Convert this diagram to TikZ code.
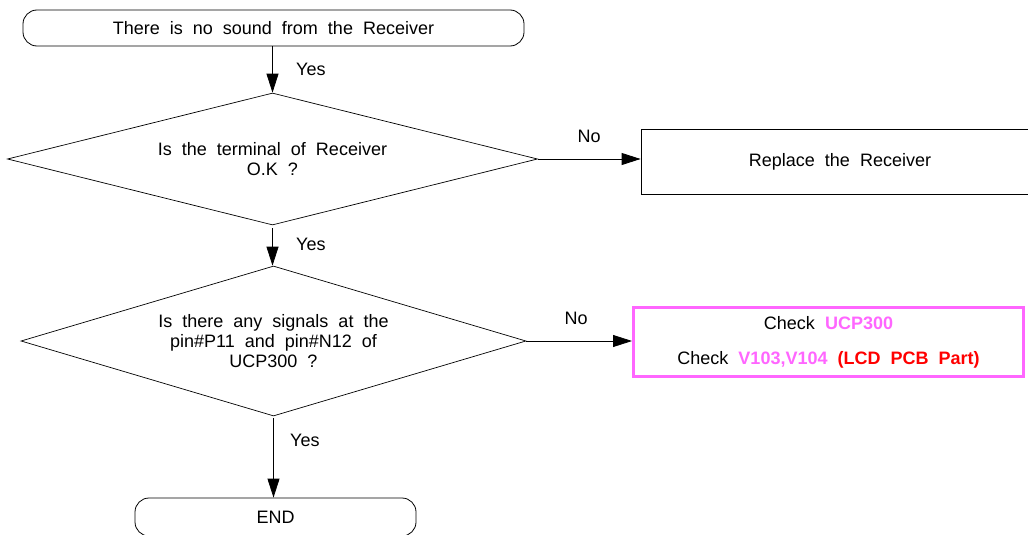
\documentclass[tikz,border=0pt]{standalone}
\usepackage{fontspec}
\setmainfont{Liberation Sans}[WordSpace=2]
\usetikzlibrary{shapes.geometric}
\usetikzlibrary{arrows.meta}
\definecolor{chkpink}{HTML}{FF66FF}
\definecolor{chkred}{HTML}{FF0000}

\begin{document}
\begin{tikzpicture}[x=1pt,y=-1pt,
  every node/.style={font=\fontsize{18}{20}\selectfont},
  term/.style={draw,line width=0.8pt,rounded corners=14pt,inner sep=0pt},
  decide/.style={draw,diamond,aspect=4,inner sep=0pt,line width=0.7pt,align=center},
  flow/.style={line width=0.8pt,-{Triangle[length=19pt,width=12pt]}}]
\useasboundingbox (0,0) rectangle (1028,535);

  \node[term,minimum width=501pt,minimum height=36pt] (start) at (273.5,28) {There is no sound from the Receiver};
  \node[decide,minimum width=530pt,minimum height=132pt] (q1) at (272.5,159) {Is the terminal of Receiver\\O.K ?};
  \node[draw,line width=0.8pt,minimum width=398pt,minimum height=65pt,inner sep=0pt] (repl) at (840,161.5) {Replace the Receiver};
  \node[decide,minimum width=505pt,minimum height=150pt] (q2) at (273.5,341) {Is there any signals at the\\pin\#P11 and pin\#N12 of\\UCP300 ?};
  \node[draw=chkpink,line width=3pt,minimum width=390pt,minimum height=69pt,inner sep=0pt,align=center] (chk) at (828.5,342)
    {Check \textbf{\color{chkpink}UCP300}\\[15pt]Check \textbf{\color{chkpink}V103,V104} \textbf{\color{chkred}(LCD PCB Part)}};
  \node[term,minimum width=281pt,minimum height=38pt] (finish) at (275.5,517) {END};

  % yes branches
  \draw[flow] (q1.north |- start.south) -- node[right=20pt,pos=0.5]{Yes} (q1.north);
  \draw[flow] (q1.south) ++(0,3) -- node[right=20pt,pos=0.44]{Yes} (q1.south |- q2.north);
  \draw[flow] (q2.south) ++(0,2) -- node[right=13pt,pos=0.28]{Yes} (q2.south |- finish.north);

  % no branches
  \draw[flow] (q1.east) -- node[above=13pt]{No} (q1.east -| repl.west);
  \draw[flow] (q2.east) -- node[above=13pt,pos=0.47]{No} (q2.east -| chk.west);

\end{tikzpicture}
\end{document}
